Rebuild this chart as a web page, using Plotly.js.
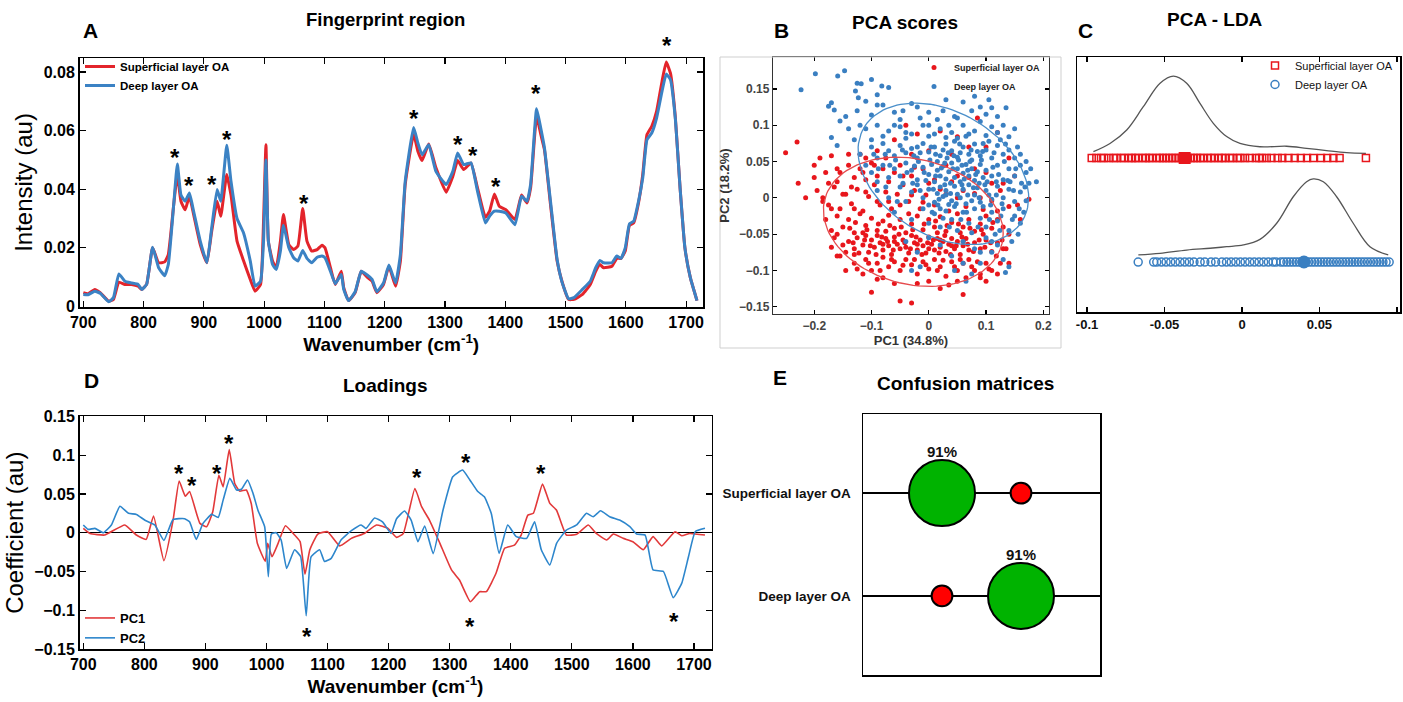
<!DOCTYPE html>
<html><head><meta charset="utf-8">
<script src="https://cdn.plot.ly/plotly-3.0.1.min.js"></script>
<style>html,body{margin:0;padding:0;background:#fff}#chart{width:1403px;height:702px}</style>
</head><body><div id="chart"></div>
<script>
// ---------- Panel A: mean spectra ----------
const wnA = [700,708,719,728,742,750,759,769,780,791,797,805,815,825,835,841,850,856,862,869,
 876,883,894,905,913,922,928,938,945,955,966,977,985,994,999,1003,1007,1014,1020,1027,
 1032,1041,1049,1056,1064,1071,1079,1088,1096,1101,1110,1118,1128,1132,1140,1151,1161,1171,1179,1187,
 1198,1207,1218,1226,1234,
 1248,1255,1262,1273,1285,1302,1313,1321,1331,1343,1354,1367,1374,1382,1390,1401,1416,1427,1436,1442,
 1452,1459,1465,1475,1486,1494,1505,1514,1528,1541,1550,1557,1563,1577,1585,1592,1599,1606,1613,1621,
 1628,1635,1643,1651,1660,1667,1674,1682,1690,1698,1707,1718];
const superficialA = [0.0047,0.0043,0.0058,0.0047,0.0018,0.0024,0.0083,0.0075,0.0075,0.0069,0.0058,0.0075,0.020,0.0149,0.0152,0.0177,0.0348,0.045,0.0359,0.033,
 0.0376,0.0314,0.0211,0.0149,0.0257,0.0359,0.0308,0.045,0.038,0.0223,0.0155,0.0092,0.0052,0.0075,0.029,0.0552,0.0223,0.0155,0.0132,0.0223,
 0.0314,0.0211,0.0194,0.0206,0.0334,0.0223,0.0189,0.0194,0.0209,0.020,0.0132,0.0075,0.012,0.0064,0.002,0.0047,0.012,0.010,0.0086,0.0047,
 0.0075,0.0137,0.0069,0.0155,0.0416,
 0.0588,0.053,0.0498,0.0554,0.0473,0.039,0.0444,0.0498,0.0467,0.049,0.0404,0.0304,0.0325,0.0384,0.0342,0.033,0.0297,0.038,0.0353,0.0404,
 0.0649,0.0586,0.0535,0.0348,0.0155,0.0086,0.0024,0.0024,0.0041,0.0075,0.012,0.0143,0.0132,0.0137,0.0164,0.0164,0.0189,0.0277,0.0285,0.0353,
 0.045,0.0586,0.0615,0.0666,0.0768,0.0834,0.0796,0.0649,0.0404,0.020,0.0098,0.002];
const deepA = [0.0041,0.0040,0.0052,0.0045,0.0016,0.003,0.0111,0.0086,0.008,0.0075,0.0058,0.0075,0.0202,0.0132,0.0105,0.0143,0.0348,0.0486,0.038,0.0359,
 0.0387,0.0325,0.0223,0.0149,0.0268,0.0399,0.0359,0.055,0.0427,0.030,0.025,0.0155,0.0069,0.0086,0.0223,0.050,0.0223,0.0143,0.0126,0.0189,
 0.0277,0.020,0.0166,0.0155,0.0191,0.0164,0.0149,0.0168,0.0172,0.0166,0.012,0.0077,0.0109,0.0058,0.002,0.005,0.012,0.0107,0.0092,0.005,
 0.008,0.0141,0.008,0.0177,0.0427,
 0.0611,0.0558,0.0518,0.0552,0.0461,0.0416,0.0461,0.0524,0.0484,0.049,0.0393,0.0285,0.0308,0.0325,0.0325,0.0319,0.0279,0.0376,0.0359,0.0416,
 0.0675,0.0607,0.0541,0.0359,0.016,0.0084,0.0026,0.003,0.0058,0.0086,0.0132,0.0157,0.0149,0.0149,0.0172,0.0164,0.020,0.0282,0.0291,0.0359,
 0.0438,0.0569,0.0592,0.0643,0.0734,0.0793,0.0774,0.0643,0.0404,0.020,0.0098,0.002];
const starsAx = [852,876,914,939,1066,1249,1322,1347,1384,1451];
const starsAy = [0.0529,0.0432,0.0436,0.0591,0.0372,0.0663,0.0574,0.0537,0.0429,0.0747];
const starTopAx = 1668;

// ---------- Panel D: loadings ----------
const wnPC1 = [700,711,735,768,787,803,815,832,847,857,867,874,891,902,912,922,929,939,948,956,
 967,975,985,998,1002,1009,1019,1031,1046,1055,1063,1071,1084,1100,1120,1139,1160,1180,1199,
 1213,1224,1243,1254,1267,1284,1303,1316,1334,1349,1360,1376,1390,1406,1417,1428,1437,1452,1464,1475,
 1491,1508,1527,1540,1557,1568,1584,1600,1617,1633,1647,1669,1680,1693,1718];
const pc1 = [0.0056,-0.001,-0.003,0.010,-0.003,-0.0086,0.0215,-0.036,0.016,0.0665,0.047,0.053,0.012,0.0077,0.027,0.074,0.059,0.107,0.0635,0.0536,
 0.055,0.0377,-0.0137,-0.037,-0.0137,-0.031,-0.0137,0.009,-0.003,-0.0116,-0.0536,-0.022,-0.0017,0.0013,-0.017,-0.0073,-0.001,0.010,0.0056,
 -0.006,-0.001,0.057,0.0335,0.016,-0.0137,-0.048,-0.061,-0.089,-0.076,-0.076,-0.052,-0.020,-0.016,-0.003,0.0227,0.025,0.0626,0.0377,0.029,
 -0.003,-0.002,0.010,-0.001,-0.0094,-0.0017,-0.0073,-0.0116,-0.022,-0.005,-0.017,0.0013,-0.004,-0.001,-0.003];
const wnPC2 = [700,708,719,733,746,760,774,787,801,817,832,847,866,874,885,896,910,921,929,940,
 951,959,969,978,986,997,1003,1008,1016,1024,1033,1046,1056,1065,1073,1087,1095,1106,1122,1139,
 1155,1163,1177,1190,1204,
 1213,1226,1237,1248,1259,1273,1289,1305,1321,1333,1346,1357,1368,1381,1395,1409,1426,1439,1450,1464,
 1475,1491,1508,1524,1535,1547,1562,1579,1595,1606,1620,1633,1650,1666,1680,1691,1702,1718];
const pc2 = [0.010,0.0043,0.0056,0.0,0.010,0.034,0.025,0.0236,0.016,0.010,-0.010,0.017,0.018,0.014,-0.0086,0.012,0.0236,0.0197,0.042,0.070,
 0.055,0.056,0.068,0.0506,0.029,0.0077,-0.0566,-0.0017,0.0,-0.0094,-0.046,-0.022,-0.031,-0.107,-0.031,-0.022,-0.037,-0.033,-0.0094,0.0026,
 0.010,0.0056,0.019,0.014,-0.001,
 0.018,0.028,0.016,-0.0116,0.0086,-0.027,0.029,0.072,0.0807,0.068,0.053,0.046,0.025,-0.0266,0.010,-0.005,-0.0073,0.014,-0.022,-0.0416,
 -0.0137,0.0034,0.010,0.025,0.0206,0.0283,0.0206,0.016,0.0077,-0.0017,-0.003,-0.048,-0.050,-0.0837,-0.065,-0.031,0.0013,0.0056];
const starsDx = [856,878,919,939,1067,1246,1327,1334,1449,1667];
const starsDy = [0.0843,0.0688,0.0843,0.123,-0.1254,0.0795,0.0979,-0.1125,0.0843,-0.1073];

// ---------- Panel B: PCA scores (PC1, PC2) ----------
const scoresSup = [[-0.25,0.062],[-0.23,0.077],[-0.228,0.02],[-0.215,0.0],[-0.2,0.045],[-0.19,0.055],[-0.2,0.028],[-0.195,0.01],[-0.185,-0.005],[-0.17,0.058],
 [-0.16,0.04],[-0.12,0.06],[-0.09,0.065],[-0.06,0.08],[-0.04,0.1],[-0.02,0.088],[0.02,0.092],[0.05,0.084],[0.07,0.07],[0.14,0.055],
 [0.155,-0.01],[0.175,-0.002],[0.12,0.09],[0.085,0.11],
 [-0.18,0.035],[-0.16,0.022],[-0.14,0.045],[-0.13,0.028],[-0.12,0.04],[-0.11,0.025],[-0.1,0.048],[-0.09,0.03],[-0.08,0.04],[-0.07,0.022],
 [-0.06,0.035],[-0.05,0.045],[-0.03,0.03],[-0.01,0.04],[0.01,0.025],[0.03,0.045],[0.05,0.03],[0.08,0.04],[0.11,0.02],
 [-0.185,0.0],[-0.175,-0.01],[-0.165,0.015],[-0.155,-0.015],[-0.145,0.005],[-0.135,-0.008],[-0.125,0.012],[-0.115,-0.018],[-0.105,0.002],[-0.095,0.018],
 [-0.085,-0.01],[-0.075,0.008],[-0.065,-0.015],[-0.055,0.005],[-0.045,0.018],[-0.035,-0.005],[-0.025,0.01],[-0.015,-0.015],[-0.005,0.004],[0.01,-0.01],
 [0.02,0.012],[0.035,-0.018],[0.05,0.0],[0.065,-0.012],[0.08,0.006],[0.095,-0.016],[0.11,-0.004],[0.125,0.01],[0.14,-0.012],
 [-0.18,-0.03],[-0.17,-0.045],[-0.16,-0.025],[-0.15,-0.04],[-0.14,-0.03],[-0.13,-0.048],[-0.12,-0.022],[-0.11,-0.038],[-0.1,-0.028],[-0.09,-0.045],
 [-0.08,-0.032],[-0.07,-0.024],[-0.06,-0.042],[-0.05,-0.03],[-0.04,-0.048],[-0.03,-0.036],[-0.02,-0.025],[-0.01,-0.044],[0.0,-0.03],[0.01,-0.04],
 [0.02,-0.026],[0.03,-0.046],[0.04,-0.034],[0.05,-0.022],[0.06,-0.04],[0.07,-0.03],[0.08,-0.046],[0.09,-0.036],[0.1,-0.025],[0.11,-0.042],
 [0.12,-0.03],[0.13,-0.04],[-0.115,-0.048],[-0.075,-0.046],[-0.035,-0.022],[0.015,-0.048],[0.055,-0.048],[0.095,-0.05],
 [-0.14,-0.06],[-0.13,-0.07],[-0.125,-0.055],[-0.115,-0.065],[-0.105,-0.075],[-0.1,-0.058],[-0.095,-0.068],[-0.09,-0.052],[-0.085,-0.062],[-0.08,-0.072],
 [-0.075,-0.056],[-0.07,-0.066],[-0.065,-0.078],[-0.06,-0.054],[-0.055,-0.064],[-0.05,-0.07],[-0.045,-0.058],[-0.04,-0.068],[-0.035,-0.076],[-0.03,-0.052],
 [-0.025,-0.062],[-0.02,-0.072],[-0.015,-0.058],[-0.01,-0.066],[-0.005,-0.076],[0.0,-0.054],[0.005,-0.064],[0.01,-0.072],[0.015,-0.056],[0.02,-0.068],
 [0.025,-0.06],[0.03,-0.074],[0.035,-0.064],[0.04,-0.056],[0.045,-0.07],[0.05,-0.06],[0.055,-0.078],[0.06,-0.066],[0.065,-0.056],[0.07,-0.072],
 [0.08,-0.062],[0.09,-0.07],[0.1,-0.058],[0.11,-0.074],[0.12,-0.062],[0.13,-0.07],[-0.11,-0.052],[-0.06,-0.06],[-0.02,-0.064],[0.02,-0.058],
 [0.06,-0.06],[-0.08,-0.064],[0.0,-0.07],[0.04,-0.066],
 [-0.16,-0.08],[-0.155,-0.08],[-0.13,-0.09],[-0.11,-0.085],[-0.1,-0.1],[-0.09,-0.09],[-0.08,-0.082],[-0.07,-0.095],[-0.06,-0.088],[-0.05,-0.1],
 [-0.04,-0.085],[-0.03,-0.092],[-0.02,-0.105],[-0.01,-0.088],[0.0,-0.098],[0.01,-0.085],[0.02,-0.095],[0.03,-0.108],[0.04,-0.088],[0.05,-0.1],
 [0.06,-0.09],[0.07,-0.085],[0.08,-0.1],[0.09,-0.11],[0.1,-0.09],[0.11,-0.1],[0.12,-0.105],[-0.115,-0.105],[-0.09,-0.112],[-0.06,-0.118],
 [0.0,-0.115],[0.035,-0.12],[0.065,-0.11],[0.09,-0.105],
 [-0.05,-0.142],[-0.03,-0.145],[0.06,-0.133],[-0.1,-0.13],[0.02,-0.125],
 [-0.132,-0.062],[-0.122,-0.076],[-0.112,-0.058],[-0.102,-0.066],[-0.092,-0.078],[-0.082,-0.054],[-0.072,-0.06],[-0.062,-0.072],[-0.052,-0.05],[-0.042,-0.062],
 [-0.032,-0.07],[-0.022,-0.054],[-0.012,-0.078],[-0.002,-0.062],[0.008,-0.058],[0.018,-0.076],[0.028,-0.052],[0.038,-0.078],[0.048,-0.066],[0.058,-0.054],
 [0.068,-0.064],[0.078,-0.074],[0.088,-0.058],[0.098,-0.068],[0.108,-0.062],[0.118,-0.08],[0.128,-0.058],[-0.138,-0.042],[-0.128,-0.034],[-0.108,-0.044],
 [-0.088,-0.036],[-0.068,-0.038],[-0.048,-0.04],[-0.028,-0.044],[-0.008,-0.036],[0.012,-0.032],[0.032,-0.038],[0.052,-0.036],[0.072,-0.042],[0.092,-0.044],
 [0.112,-0.034],[-0.165,-0.055],[-0.15,-0.065],[-0.145,-0.075],[-0.17,-0.068],[-0.145,-0.1],[-0.125,-0.098],[-0.105,-0.09],[-0.085,-0.1],[-0.065,-0.085],
 [-0.045,-0.093],[-0.025,-0.085],[-0.005,-0.092],[0.015,-0.1],[0.025,-0.086],[0.045,-0.095],[0.055,-0.085],[0.075,-0.095],[0.085,-0.088],[0.105,-0.098],
 [0.125,-0.09],[-0.17,-0.015],[-0.15,0.005],[-0.13,-0.015],[-0.11,0.008],[-0.09,-0.005],[-0.07,-0.005],[-0.05,-0.01],[-0.03,0.004],[-0.01,-0.006],
 [0.03,0.005],[0.06,0.01],[0.09,0.0],[0.12,-0.018],[-0.175,0.02],[-0.155,0.035],[-0.135,0.015],[-0.115,0.035],[-0.095,0.045],[-0.045,0.03],
 [-0.025,0.042],[0.0,0.02],[0.04,0.022],[0.07,0.028],[0.1,0.035],[-0.11,0.055],[-0.14,0.06],[-0.075,0.055],[-0.03,0.06],[0.0,0.065],
 [0.04,0.06],[0.1,0.07],[0.13,0.02],[0.15,0.03],[0.16,-0.03],[0.14,-0.05],[0.135,-0.07],[0.14,-0.09],[0.1,-0.115],[0.05,-0.115],
 [-0.02,-0.118],[-0.08,-0.11],[-0.13,-0.078],[-0.16,-0.05]];
const scoresDeep = [[-0.198,0.171],[-0.223,0.149],[-0.147,0.175],[-0.159,0.168],[-0.125,0.158],[-0.118,0.157],[-0.10,0.163],[-0.128,0.147],[-0.082,0.154],[-0.07,0.152],
 [-0.123,0.138],[-0.09,0.142],
 [-0.175,0.126],[-0.17,0.131],[-0.165,0.121],[-0.145,0.112],[-0.155,0.106],[-0.11,0.133],[-0.08,0.128],[-0.06,0.118],[-0.03,0.13],[-0.02,0.125],
 [0.03,0.135],[0.06,0.132],[0.09,0.125],[0.11,0.124],[0.135,0.124],[0.12,0.112],[-0.1,0.114],[-0.05,0.108],[0.0,0.118],[0.045,0.112],
 [-0.125,0.12],[0.015,0.108],
 [-0.11,0.095],[-0.09,0.1],[-0.07,0.092],[-0.05,0.098],[-0.03,0.088],[-0.01,0.1],[0.0,0.085],[0.02,0.095],[0.04,0.09],[0.06,0.1],
 [0.08,0.092],[0.1,0.086],[0.12,0.09],[0.14,0.084],[-0.17,0.083],[-0.16,0.072],[-0.13,0.08],[0.05,0.082],[0.09,0.105],[0.15,0.095],
 [0.07,0.088],[0.03,0.083],[-0.04,0.082],[0.11,0.098],
 [-0.12,0.06],[-0.1,0.07],[-0.09,0.055],[-0.08,0.075],[-0.07,0.065],[-0.06,0.058],[-0.05,0.072],[-0.04,0.062],[-0.03,0.068],[-0.02,0.055],
 [-0.01,0.075],[0.0,0.063],[0.01,0.07],[0.02,0.058],[0.03,0.074],[0.04,0.065],[0.05,0.056],[0.06,0.07],[0.07,0.06],[0.08,0.074],
 [0.09,0.058],[0.1,0.066],[0.11,0.055],[0.12,0.072],[0.13,0.06],[0.14,0.066],[0.15,0.055],[0.16,0.06],[-0.015,0.062],[0.015,0.05],
 [0.045,0.078],[0.075,0.052],[0.105,0.078],[0.025,0.066],[0.055,0.062],[0.085,0.064],
 [-0.1,0.035],[-0.08,0.045],[-0.07,0.028],[-0.06,0.04],[-0.05,0.03],[-0.04,0.048],[-0.03,0.038],[-0.02,0.025],[-0.01,0.042],[0.0,0.032],
 [0.005,0.046],[0.01,0.022],[0.015,0.038],[0.02,0.03],[0.025,0.044],[0.03,0.026],[0.035,0.036],[0.04,0.048],[0.045,0.028],[0.05,0.04],
 [0.055,0.022],[0.06,0.034],[0.065,0.046],[0.07,0.03],[0.075,0.04],[0.08,0.024],[0.085,0.036],[0.09,0.046],[0.095,0.028],[0.1,0.038],
 [0.11,0.03],[0.12,0.045],[0.13,0.025],[0.14,0.04],[0.15,0.03],[0.16,0.045],[0.17,0.035],[0.188,0.022],[-0.045,0.02],[-0.025,0.044],
 [0.012,0.03],[0.038,0.02],[0.058,0.045],[0.088,0.02],[0.118,0.022],[0.068,0.038],[0.028,0.048],[-0.005,0.024],
 [-0.09,0.01],[-0.07,0.0],[-0.05,0.015],[-0.04,-0.005],[-0.03,0.008],[-0.02,0.018],[-0.01,0.0],[0.0,0.012],[0.01,-0.006],[0.02,0.015],
 [0.025,0.002],[0.03,0.01],[0.04,-0.004],[0.045,0.016],[0.05,0.005],[0.06,0.012],[0.065,-0.008],[0.07,0.018],[0.08,0.004],[0.085,0.014],
 [0.09,-0.006],[0.1,0.01],[0.11,-0.002],[0.12,0.016],[0.13,0.0],[0.14,0.012],[0.15,-0.005],[0.16,0.008],[0.17,-0.004],[0.035,-0.009],
 [0.055,0.0],[0.075,-0.004],[0.105,0.004],[0.015,0.006],[-0.015,0.01],
 [-0.06,-0.02],[-0.03,-0.03],[-0.01,-0.015],[0.0,-0.035],[0.01,-0.022],[0.02,-0.04],[0.03,-0.018],[0.04,-0.03],[0.05,-0.045],[0.06,-0.02],
 [0.07,-0.035],[0.08,-0.015],[0.09,-0.028],[0.1,-0.04],[0.11,-0.02],[0.12,-0.032],[0.13,-0.015],[0.14,-0.045],[0.15,-0.025],[0.16,-0.035],
 [0.045,-0.012],[0.075,-0.048],[0.095,-0.012],[0.025,-0.028],
 [-0.04,-0.06],[-0.02,-0.075],[0.0,-0.055],[0.02,-0.065],[0.04,-0.08],[0.06,-0.06],[0.08,-0.07],[0.1,-0.055],[0.12,-0.065],[0.13,-0.085],
 [0.134,-0.103],[0.14,-0.095],[-0.03,-0.1],[-0.015,-0.095],[0.065,-0.115],[0.075,-0.105],[0.045,-0.1],[0.09,-0.09],[0.11,-0.075],
 [0.002,0.052],[0.012,0.06],[0.022,0.041],[0.032,0.055],[0.042,0.04],[0.052,0.052],[0.062,0.026],[0.072,0.05],[0.082,0.032],[0.092,0.052],
 [0.102,0.022],[0.112,0.042],[0.122,0.032],[0.132,0.05],[0.142,0.022],[0.152,0.04],[0.162,0.02],[-0.008,0.035],[-0.018,0.05],[-0.028,0.02],
 [-0.038,0.035],[-0.058,0.052],[-0.068,0.045],[-0.088,0.04],[0.008,0.012],[0.018,-0.002],[0.028,0.018],[0.038,0.006],[0.048,-0.008],[0.058,0.018],
 [0.068,0.004],[0.078,0.014],[0.088,0.0],[0.098,0.018],[0.108,-0.01],[0.118,0.004],[0.128,-0.008],[0.138,0.024],[0.148,0.01],[0.158,-0.015],
 [0.168,0.015],[0.006,-0.02],[0.016,-0.01],[0.036,-0.04],[0.056,-0.03],[0.066,-0.02],[0.086,-0.04],[0.106,-0.03],[0.116,-0.05],[0.126,-0.025],
 [0.146,-0.03],[0.156,-0.05],[0.166,-0.02],[-0.02,0.07],[-0.04,0.09],[-0.06,0.1],[-0.08,0.085],[-0.1,0.08],[-0.12,0.1],[0.01,0.088],
 [0.035,0.1],[0.065,0.085],[0.095,0.075],[0.125,0.08],[0.13,0.1],[0.1,0.115],[0.075,0.12],[0.155,0.07],[0.17,0.05],[0.175,0.02],
 [0.178,0.04],[-0.015,0.11],[-0.045,0.12],[0.025,0.12],[0.08,0.14],[0.105,0.135],[-0.09,0.128],[-0.14,0.095],[0.05,0.11],[0.0,0.1],
 [0.03,0.004],[0.044,0.058],[0.074,0.066],[0.094,0.064],[0.114,0.062],[0.134,0.074],[0.054,0.074],[0.034,0.062],[0.004,0.07],[-0.026,0.058],
 [-0.046,0.066],[-0.076,0.06],[-0.096,0.06],[-0.11,0.045],[-0.09,0.022],[-0.075,0.015],[-0.055,-0.005],[0.0,-0.01],[0.02,-0.015],[0.11,-0.06],
 [0.09,-0.075],[0.06,-0.09],[0.145,-0.06],[0.124,-0.045]];
// confidence ellipses: [centre PC1, centre PC2, half-width PC1, half-height PC2, phase]
const ellipseSup = [-0.027,-0.033,0.157,0.089,1.752];
const ellipseDeep = [0.0255,0.033,0.149,0.0975,1.907];

// ---------- Panel C: PCA-LDA ----------
const ldaSup = [-0.097,-0.094,-0.091,-0.089,-0.086,-0.083,-0.081,-0.078,-0.076,-0.073,-0.071,-0.069,-0.067,-0.064,-0.062,-0.06,-0.058,-0.055,-0.053,-0.051,
 -0.049,-0.047,-0.045,-0.043,-0.041,-0.039,-0.037,-0.035,-0.033,-0.031,-0.029,-0.027,-0.025,-0.022,-0.02,-0.018,-0.015,-0.013,-0.011,-0.008,
 -0.006,-0.003,-0.001,0.002,0.005,0.009,0.011,0.013,0.016,0.019,0.023,0.026,0.03,0.034,0.038,0.042,0.046,0.051,0.055,0.059,0.063,0.08];
const ldaDeep = [-0.067,-0.057,-0.055,-0.052,-0.049,-0.046,-0.043,-0.04,-0.037,-0.034,-0.031,-0.027,-0.024,-0.02,-0.017,-0.013,-0.01,-0.007,-0.004,-0.001,
 0.002,0.005,0.008,0.011,0.014,0.017,0.02,0.022,0.025,0.027,0.029,0.031,0.033,0.035,0.037,0.039,0.041,0.043,0.045,0.047,
 0.049,0.051,0.053,0.055,0.057,0.059,0.061,0.063,0.065,0.067,0.069,0.071,0.073,0.075,0.077,0.079,0.081,0.083,0.085,0.087,0.089,0.091,0.093,0.095];
const ldaMeans = [-0.037,0.04];
const ldaRowLevel = [0.604,0.196];
const kdeSupX = [-0.0959,-0.0852,-0.0744,-0.0637,-0.0529,-0.0443,-0.0357,-0.0271,-0.0185,-0.0099,-0.0013,0.0116,0.0288,0.0417,0.0546,0.0675,0.080];
const kdeSupY = [0.629,0.661,0.714,0.805,0.897,0.925,0.897,0.818,0.740,0.688,0.661,0.648,0.650,0.642,0.633,0.625,0.622];
const kdeDeepX = [-0.0669,-0.0529,-0.0357,-0.0206,-0.0099,0.0009,0.0116,0.0224,0.0331,0.0417,0.046,0.0525,0.0611,0.0718,0.0826,0.0944];
const kdeDeepY = [0.224,0.230,0.243,0.250,0.256,0.263,0.285,0.348,0.452,0.511,0.522,0.511,0.452,0.348,0.256,0.224];

// ---------- Panel E: confusion matrix ----------
const cmClasses = ['Superficial layer OA','Deep layer OA'];
const cmValues = [[91,9],[9,91]];

// ================= styles =================
const ARIAL = "'Liberation Sans',Arial,sans-serif";
const RED = '#e3242b', BLUE = '#3b82c4';
const RED_D = '#e2393a', BLUE_D = '#2d86cc';

const traces = [];
// A
traces.push({x:wnA,y:superficialA,xaxis:'x',yaxis:'y',type:'scatter',mode:'lines',name:'Superficial layer OA',
  line:{color:RED,width:3,shape:'spline',smoothing:0.4},legend:'legend'});
traces.push({x:wnA,y:deepA,xaxis:'x',yaxis:'y',type:'scatter',mode:'lines',name:'Deep layer OA',
  line:{color:BLUE,width:3,shape:'spline',smoothing:0.4},legend:'legend'});
// B
traces.push({x:scoresSup.map(p=>p[0]),y:scoresSup.map(p=>p[1]),xaxis:'x2',yaxis:'y2',type:'scatter',mode:'markers',
  name:'Superficial layer OA',marker:{color:'#e8161c',size:5},legend:'legend2'});
traces.push({x:scoresDeep.map(p=>p[0]),y:scoresDeep.map(p=>p[1]),xaxis:'x2',yaxis:'y2',type:'scatter',mode:'markers',
  name:'Deep layer OA',marker:{color:'#3a7fc1',size:5},legend:'legend2'});
function ellipse(e){
  const xs=[],ys=[];
  for(let i=0;i<=120;i++){const t=2*Math.PI*i/120;xs.push(e[0]+e[2]*Math.cos(t));ys.push(e[1]+e[3]*Math.cos(t+e[4]));}
  return {xs,ys};
}
const eS=ellipse(ellipseSup), eD=ellipse(ellipseDeep);
traces.push({x:eS.xs,y:eS.ys,xaxis:'x2',yaxis:'y2',type:'scatter',mode:'lines',line:{color:'#e64b4e',width:1.3},showlegend:false});
traces.push({x:eD.xs,y:eD.ys,xaxis:'x2',yaxis:'y2',type:'scatter',mode:'lines',line:{color:'#4a8fca',width:1.3},showlegend:false});
// C
traces.push({x:kdeSupX,y:kdeSupY,xaxis:'x3',yaxis:'y3',type:'scatter',mode:'lines',line:{color:'#555',width:1.3,shape:'spline'},showlegend:false});
traces.push({x:kdeDeepX,y:kdeDeepY,xaxis:'x3',yaxis:'y3',type:'scatter',mode:'lines',line:{color:'#555',width:1.3,shape:'spline'},showlegend:false});
traces.push({x:ldaSup,y:ldaSup.map(()=>ldaRowLevel[0]),xaxis:'x3',yaxis:'y3',type:'scatter',mode:'markers',name:'Superficial layer OA',
  marker:{symbol:'square-open',color:'#e8161c',size:7,line:{width:1.5}},legend:'legend3'});
traces.push({x:ldaDeep,y:ldaDeep.map(()=>ldaRowLevel[1]),xaxis:'x3',yaxis:'y3',type:'scatter',mode:'markers',name:'Deep layer OA',
  marker:{symbol:'circle-open',color:'#3a7fc1',size:8,line:{width:1.5}},legend:'legend3'});
traces.push({x:[ldaMeans[0]],y:[ldaRowLevel[0]],xaxis:'x3',yaxis:'y3',type:'scatter',mode:'markers',showlegend:false,
  marker:{symbol:'square',color:'#e8161c',size:12}});
traces.push({x:[ldaMeans[1]],y:[ldaRowLevel[1]],xaxis:'x3',yaxis:'y3',type:'scatter',mode:'markers',showlegend:false,
  marker:{symbol:'circle',color:'#3a7fc1',size:13}});
// D
traces.push({x:wnPC1,y:pc1,xaxis:'x4',yaxis:'y4',type:'scatter',mode:'lines',name:'PC1',line:{color:RED_D,width:1.6,shape:'spline',smoothing:0.4},legend:'legend4'});
traces.push({x:wnPC2,y:pc2,xaxis:'x4',yaxis:'y4',type:'scatter',mode:'lines',name:'PC2',line:{color:BLUE_D,width:1.6,shape:'spline',smoothing:0.4},legend:'legend4'});
// E
const ex=[],ey=[],es=[],ec=[];
cmValues.forEach((row,i)=>row.forEach((v,j)=>{
  ex.push(j+1); ey.push(cmClasses.length-i); es.push(66*Math.sqrt(v/91));
  ec.push(i===j?'#00b300':'#ff0000');
}));
traces.push({x:ex,y:ey,xaxis:'x5',yaxis:'y5',type:'scatter',mode:'markers',showlegend:false,
  marker:{size:es,color:ec,line:{color:'#000',width:2},opacity:1}});

// ================= layout =================
const W=1403,H=702;
const dx=(a,b)=>[a/W,b/W], dy=(top,bot)=>[1-bot/H,1-top/H];
const bigTick={family:ARIAL,size:16,color:'#000',weight:'bold'};
function boxAxis(extra){return Object.assign({showline:true,linecolor:'#000',linewidth:1.5,mirror:'ticks',ticks:'inside',ticklen:6,tickwidth:1.2,tickcolor:'#000',showgrid:false,zeroline:false,automargin:false},extra);}

const layout={
  width:W,height:H,margin:{l:0,r:0,t:0,b:0},paper_bgcolor:'#fff',plot_bgcolor:'#fff',showlegend:true,
  xaxis:boxAxis({domain:dx(79.5,703),range:[693.7,1728],tickvals:[700,800,900,1000,1100,1200,1300,1400,1500,1600,1700],tickfont:bigTick,anchor:'y',
    title:{text:'Wavenumber (cm<sup>-1</sup>)',font:{family:ARIAL,size:19,color:'#000',weight:'bold'},standoff:6}}),
  yaxis:boxAxis({domain:dy(58,307),range:[-0.0002,0.0848],tickvals:[0,0.02,0.04,0.06,0.08],tickfont:bigTick,anchor:'x',
    title:{text:'Intensity (au)',font:{family:ARIAL,size:24,color:'#000'},standoff:4}}),
  xaxis2:boxAxis({domain:dx(773,1049),range:[-0.272,0.21],tickvals:[-0.2,-0.1,0,0.1,0.2],ticklen:4,linecolor:'#333',linewidth:1.2,anchor:'y2',
    tickfont:{family:ARIAL,size:12,color:'#444',weight:'bold'},
    title:{text:'PC1 (34.8%)',font:{family:ARIAL,size:13,color:'#333',weight:'bold'},standoff:2}}),
  yaxis2:boxAxis({domain:dy(57,314),range:[-0.16,0.194],tickvals:[-0.15,-0.1,-0.05,0,0.05,0.1,0.15],ticklen:4,linecolor:'#333',linewidth:1.2,anchor:'x2',
    tickfont:{family:ARIAL,size:12,color:'#444',weight:'bold'},
    title:{text:'PC2 (18.2%)',font:{family:ARIAL,size:13,color:'#333',weight:'bold'},standoff:6}}),
  xaxis3:boxAxis({domain:dx(1077,1400),range:[-0.1065,0.102],tickvals:[-0.1,-0.05,0,0.05,0.1],ticktext:['-0.1','-0.05','0','0.05','0.1'],ticklen:5,anchor:'y3',
    tickfont:{family:ARIAL,size:13,color:'#111',weight:'bold'}}),
  yaxis3:boxAxis({domain:dy(57,312),range:[0,1],showticklabels:false,ticks:'',mirror:true,anchor:'x3'}),
  xaxis4:boxAxis({domain:dx(79.5,711.5),range:[693.8,1728.7],tickvals:[700,800,900,1000,1100,1200,1300,1400,1500,1600,1700],tickfont:bigTick,anchor:'y4',
    title:{text:'Wavenumber (cm<sup>-1</sup>)',font:{family:ARIAL,size:19,color:'#000',weight:'bold'},standoff:6}}),
  yaxis4:boxAxis({domain:dy(416.3,649.1),range:[-0.15,0.15],tickvals:[-0.15,-0.1,-0.05,0,0.05,0.1,0.15],tickfont:bigTick,anchor:'x4',
    zeroline:true,zerolinecolor:'#000',zerolinewidth:1.5,
    title:{text:'Coefficient (au)',font:{family:ARIAL,size:24,color:'#000'},standoff:4}}),
  xaxis5:{domain:dx(863,1100),range:[0,3],showline:true,mirror:true,linecolor:'#000',linewidth:1.5,showticklabels:false,ticks:'',showgrid:false,zeroline:false,anchor:'y5'},
  yaxis5:{domain:dy(414,675),range:[0.23,2.77],showline:true,mirror:true,linecolor:'#000',linewidth:1.5,ticks:'',showgrid:true,gridcolor:'#000',gridwidth:2.5,zeroline:false,anchor:'x5',
    tickvals:cmClasses.map((c,i)=>cmClasses.length-i),ticktext:cmClasses,ticklabelstandoff:8,
    tickfont:{family:ARIAL,size:13.5,color:'#111',weight:'bold'}},
  legend:{x:80/W,y:1-52/H,xanchor:'left',yanchor:'top',bgcolor:'rgba(0,0,0,0)',itemwidth:30,tracegroupgap:0,
    font:{family:ARIAL,size:11.5,color:'#000',weight:'bold'}},
  legend2:{x:1046/W,y:1-53/H,xanchor:'right',yanchor:'top',bgcolor:'rgba(0,0,0,0)',itemwidth:30,itemsizing:'trace',
    font:{family:ARIAL,size:9,color:'#222',weight:'bold'}},
  legend3:{x:1398/W,y:1-51/H,xanchor:'right',yanchor:'top',bgcolor:'rgba(0,0,0,0)',itemwidth:30,itemsizing:'trace',
    font:{family:ARIAL,size:11,color:'#111'}},
  legend4:{x:80/W,y:1-653/H,xanchor:'left',yanchor:'bottom',bgcolor:'rgba(0,0,0,0)',itemwidth:30,
    font:{family:ARIAL,size:13,color:'#000',weight:'bold'}},
  shapes:[{type:'rect',xref:'paper',yref:'paper',x0:720/W,x1:1061/W,y0:1-348/H,y1:1-57/H,line:{color:'#cfcfcf',width:1}}],
  annotations:[]
};
const ann=layout.annotations;
function title(t,x,y,font){ann.push({text:t,xref:'paper',yref:'paper',x:x/W,y:1-y/H,xanchor:'center',yanchor:'middle',showarrow:false,font:font});}
title('Fingerprint region',385,20,{family:ARIAL,size:18.5,color:'#000',weight:'bold'});
title('PCA scores',905,22,{family:ARIAL,size:19,color:'#000',weight:'bold'});
title('PCA - LDA',1215,20,{family:ARIAL,size:19,color:'#000',weight:'bold'});
title('Loadings',385,385,{family:ARIAL,size:19,color:'#000',weight:'bold'});
title('Confusion matrices',965,383,{family:ARIAL,size:19,color:'#000',weight:'bold'});
[['A',90,31],['B',782,31],['C',1085,31],['D',91,380],['E',780,377]].forEach(l=>title(l[0],l[1],l[2],{family:ARIAL,size:21,color:'#000',weight:'bold'}));
const starFont={family:ARIAL,size:24,color:'#000',weight:'bold'};
starsAx.forEach((x,i)=>ann.push({text:'*',x:x,y:starsAy[i],xref:'x',yref:'y',yanchor:'middle',showarrow:false,yshift:-6,font:starFont}));
ann.push({text:'*',x:starTopAx,y:1-40/H,xref:'x',yref:'paper',yanchor:'middle',showarrow:false,yshift:-6,font:starFont});
starsDx.forEach((x,i)=>ann.push({text:'*',x:x,y:starsDy[i],xref:'x4',yref:'y4',yanchor:'middle',showarrow:false,yshift:-6,font:starFont}));
// percentage labels above the correct-class bubbles
ex.forEach((x,k)=>{ if(ec[k]==='#00b300'){
  const i=cmClasses.length-ey[k], j=x-1;
  ann.push({text:cmValues[i][j]+'%',x:x,y:ey[k],xref:'x5',yref:'y5',yanchor:'bottom',showarrow:false,yshift:es[k]/2-2,
    font:{family:ARIAL,size:15,color:'#111',weight:'bold'}});
}});

Plotly.newPlot('chart',traces,layout,{displayModeBar:false,staticPlot:true});
</script></body></html>
